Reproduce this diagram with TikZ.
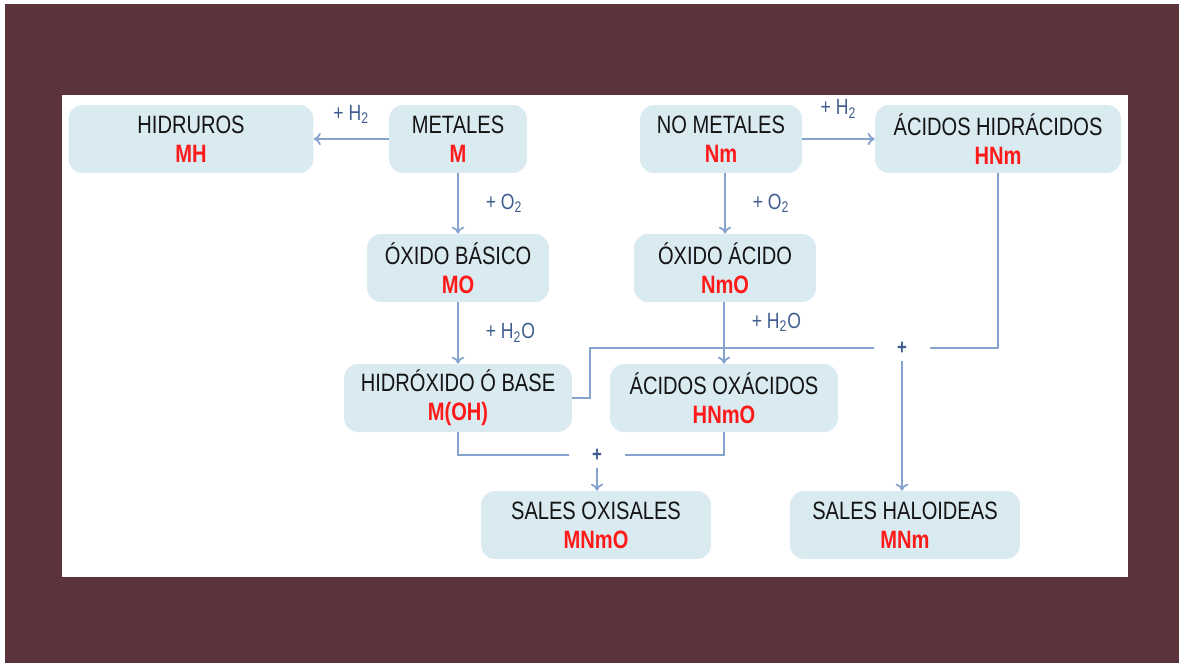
\documentclass[tikz,border=0pt]{standalone}
\usepackage{fontspec}
\setmainfont{Liberation Sans}[FakeStretch=0.8]
\usetikzlibrary{arrows.meta}

\definecolor{marron}{HTML}{5C343C}
\definecolor{cajafondo}{HTML}{DAEAF1}
\definecolor{linea}{HTML}{86A3D0}
\definecolor{etiqueta}{HTML}{3F5D8F}
\definecolor{formula}{HTML}{FF1A1A}

\tikzset{
  caja/.style={fill=cajafondo, rounded corners=8pt, minimum height=1.36cm,
    align=center, text=black!92, inner sep=2pt,
    font=\fontsize{14.3}{16.5}\selectfont},
  conector/.style={draw=linea, line width=1pt, -{To[length=4pt,width=7pt]}},
  tramo/.style={draw=linea, line width=1pt},
  reactivo/.style={text=etiqueta, font=\fontsize{12.5}{14}\selectfont},
  suma/.style={text=etiqueta, font=\bfseries\fontsize{12}{14}\selectfont,
    minimum width=1.1cm, minimum height=0.5cm, inner sep=0pt}
}
\newcommand{\formula}[1]{{\color{formula}\bfseries #1}}

\begin{document}
\begin{tikzpicture}[x=0.02cm,y=-0.02cm]
  % fondo
  \useasboundingbox (0,0) rectangle (1179,663);
  \fill[white] (0,0) rectangle (1179,663);
  \fill[marron] (5,4) rectangle (1179,663);
  \fill[white] (62,95) rectangle (1128,577);

  % compuestos
  \node[caja, minimum width=4.9cm] (hidruros) at (191,139) {HIDRUROS\\\formula{MH}};
  \node[caja, minimum width=2.76cm] (metales) at (458,139) {METALES\\\formula{M}};
  \node[caja, minimum width=3.24cm] (nometales) at (721,139) {NO METALES\\\formula{Nm}};
  \node[caja, minimum width=4.92cm] (acidhid) at (998,139) {ÁCIDOS HIDRÁCIDOS\\\formula{HNm}};
  \node[caja, minimum width=3.64cm] (oxbas) at (458,268) {ÓXIDO BÁSICO\\\formula{MO}};
  \node[caja, minimum width=3.64cm] (oxacido) at (725,268) {ÓXIDO ÁCIDO\\\formula{NmO}};
  \node[caja, minimum width=4.56cm] (hidrox) at (458,398) {HIDRÓXIDO Ó BASE\\\formula{M(OH)}};
  \node[caja, minimum width=4.56cm] (acoxa) at (724,398) {ÁCIDOS OXÁCIDOS\\\formula{HNmO}};
  \node[caja, minimum width=4.6cm] (salesoxi) at (596,525) {SALES OXISALES\\\formula{MNmO}};
  \node[caja, minimum width=4.6cm] (saleshal) at (905,525) {SALES HALOIDEAS\\\formula{MNm}};

  % uniones
  \node[suma] (plusA) at (597,455) {+};
  \node[suma] (plusB) at (902,348) {+};

  % reacciones
  \draw[conector] (metales.west) -- node[reactivo, above=5pt] {+ H\textsubscript{2}} (hidruros.east);
  \draw[conector] (nometales.east) -- node[reactivo, above=8pt] {+ H\textsubscript{2}} (acidhid.west);
  \draw[conector] (metales.south) -- node[reactivo, right=12pt] {+ O\textsubscript{2}} (oxbas.north);
  \draw[conector] (oxbas.south) -- node[reactivo, right=12pt] {+ H\textsubscript{2}O} (hidrox.north);
  \draw[conector] (nometales.south -| oxacido) -- node[reactivo, right=12pt] {+ O\textsubscript{2}} (oxacido.north);
  \draw[conector] (oxacido.south -| acoxa) -- node[reactivo, right=12pt, yshift=6pt] {+ H\textsubscript{2}O} (acoxa.north);

  % sales
  \draw[tramo] (hidrox.south) |- (plusA.west);
  \draw[tramo] (acoxa.south) |- (plusA.east);
  \draw[conector] (plusA.south) -- (plusA.south |- salesoxi.north);
  \draw[tramo] (hidrox.east) -- ++(18,0) |- (plusB.west);
  \draw[tramo] (acidhid.south) |- (plusB.east);
  \draw[conector] (plusB.south) -- (plusB.south |- saleshal.north);
\end{tikzpicture}
\end{document}
